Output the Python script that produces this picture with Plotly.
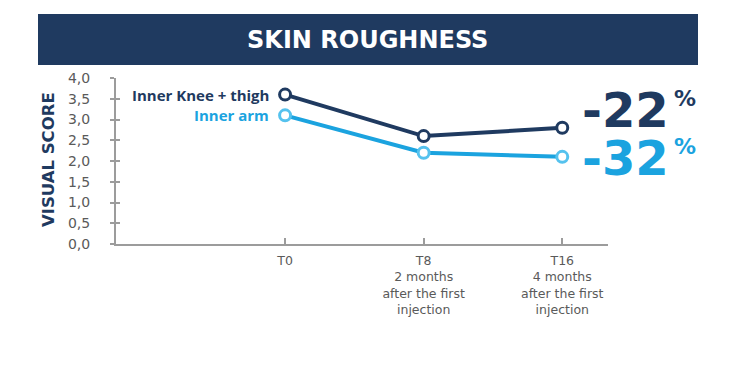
import plotly.graph_objects as go

categories = ["T0", "T8", "T16"]
tick_labels = ["T0", "T8<br>2 months<br>after the first<br>injection", "T16<br>4 months<br>after the first<br>injection"]
knee_thigh = [3.6, 2.6, 2.8]
inner_arm = [3.1, 2.2, 2.1]
series_names = ["Inner Knee + thigh", "Inner arm"]
y_ticks = [0, 0.5, 1.0, 1.5, 2.0, 2.5, 3.0, 3.5, 4.0]

NAVY = "#1f3a60"
BLUE = "#1ba3df"
BLUE_M = "#55c2ee"
GREY = "#5a5a5a"
AXIS = "#9c9c9c"
FONT = "Open Sans"
WIDE = "DejaVu Sans"

OFF = 8  # page body margin
W, H = 730 - OFF, 373 - OFF
L, R, T, B = 116 - OFF, 122, 78 - OFF, 129
PW, PH = W - L - R, H - T - B


def px(xp):
    return (xp - OFF - L) / PW


def py(yp):
    return (H - B - (yp - OFF)) / PH


xpos = list(range(len(categories)))

fig = go.Figure()
for vals, color, mcol in [(knee_thigh, NAVY, NAVY), (inner_arm, BLUE, BLUE_M)]:
    fig.add_trace(go.Scatter(
        x=xpos, y=vals, mode="lines+markers",
        line=dict(color=color, width=4),
        marker=dict(size=11, color="white", line=dict(color=mcol, width=3)),
        showlegend=False, hoverinfo="skip", cliponaxis=False,
    ))
# invisible trace to carry the overlaid tick axis
fig.add_trace(go.Scatter(x=[xpos[0]], y=[knee_thigh[0]], yaxis="y2", mode="markers",
                         marker=dict(opacity=0), showlegend=False, hoverinfo="skip"))

# title bar
fig.add_shape(type="rect", xref="paper", yref="paper",
              x0=px(38), x1=px(698), y0=py(65), y1=py(14),
              fillcolor=NAVY, line=dict(width=0), layer="above")
fig.add_annotation(text="<b>SKIN ROUGHNESS</b>", xref="paper", yref="paper",
                   x=px(367), y=py(40), showarrow=False,
                   font=dict(family=WIDE, size=24, color="white"),
                   xanchor="center", yanchor="middle")

# y-axis title
fig.add_annotation(text="<b>VISUAL SCORE</b>", xref="paper", yref="paper",
                   x=px(48), y=py(160), showarrow=False, textangle=-90,
                   font=dict(family=WIDE, size=16.5, color=NAVY),
                   xanchor="center", yanchor="middle")

# series labels next to first points
for name, vals, color in [(series_names[0], knee_thigh, NAVY), (series_names[1], inner_arm, BLUE)]:
    fig.add_annotation(text="<b>" + name + "</b>", x=xpos[0], y=vals[0], xref="x", yref="y",
                       showarrow=False, xanchor="right", yanchor="middle", xshift=-14,
                       font=dict(family=FONT, size=15, color=color))

# percentage changes
for vals, color, ypix in [(knee_thigh, NAVY, 110), (inner_arm, BLUE, 157.5)]:
    pct = round((vals[-1] - vals[0]) / vals[0] * 100)
    fig.add_annotation(text="<b>-" + str(abs(pct)) + "</b>", xref="paper", yref="paper",
                       x=px(671), y=py(ypix), showarrow=False, xanchor="right", yanchor="middle",
                       height=40, valign="middle",
                       font=dict(family=WIDE, size=48, color=color))
    fig.add_annotation(text="<b>%</b>", xref="paper", yref="paper",
                       x=px(672), y=py(ypix - 12), showarrow=False, xanchor="left", yanchor="middle",
                       height=18, valign="middle",
                       font=dict(family=WIDE, size=22, color=color))

fig.update_layout(
    width=W, height=H,
    margin=dict(l=L, r=R, t=T, b=B, pad=0, autoexpand=False),
    paper_bgcolor="white", plot_bgcolor="white",
    font=dict(family=WIDE, color=GREY, size=13),
    xaxis=dict(range=[-1.22, 2.33], tickvals=xpos + [2.33], ticktext=tick_labels + [""],
               showgrid=False, zeroline=False, showline=True, linecolor=AXIS, linewidth=2,
               ticks="inside", ticklen=6, tickwidth=2, tickcolor=AXIS, ticklabelstandoff=4,
               tickfont=dict(family=WIDE, size=12.5, color=GREY)),
    yaxis=dict(range=[0, 4.0], tickvals=y_ticks,
               ticktext=[f"{v:.1f}".replace(".", ",") for v in y_ticks],
               showgrid=False, zeroline=False, showline=True, linecolor=AXIS, linewidth=2,
               ticks="outside", ticklen=4, tickwidth=2, tickcolor=AXIS, ticklabelstandoff=17,
               tickfont=dict(family=WIDE, size=14, color=GREY)),
    yaxis2=dict(range=[0, 4.0], overlaying="y", side="left", tickvals=y_ticks,
                showgrid=False, zeroline=False, showline=False, showticklabels=False,
                ticks="inside", ticklen=4, tickwidth=2, tickcolor=AXIS),
)

fig.write_html("out.html")
